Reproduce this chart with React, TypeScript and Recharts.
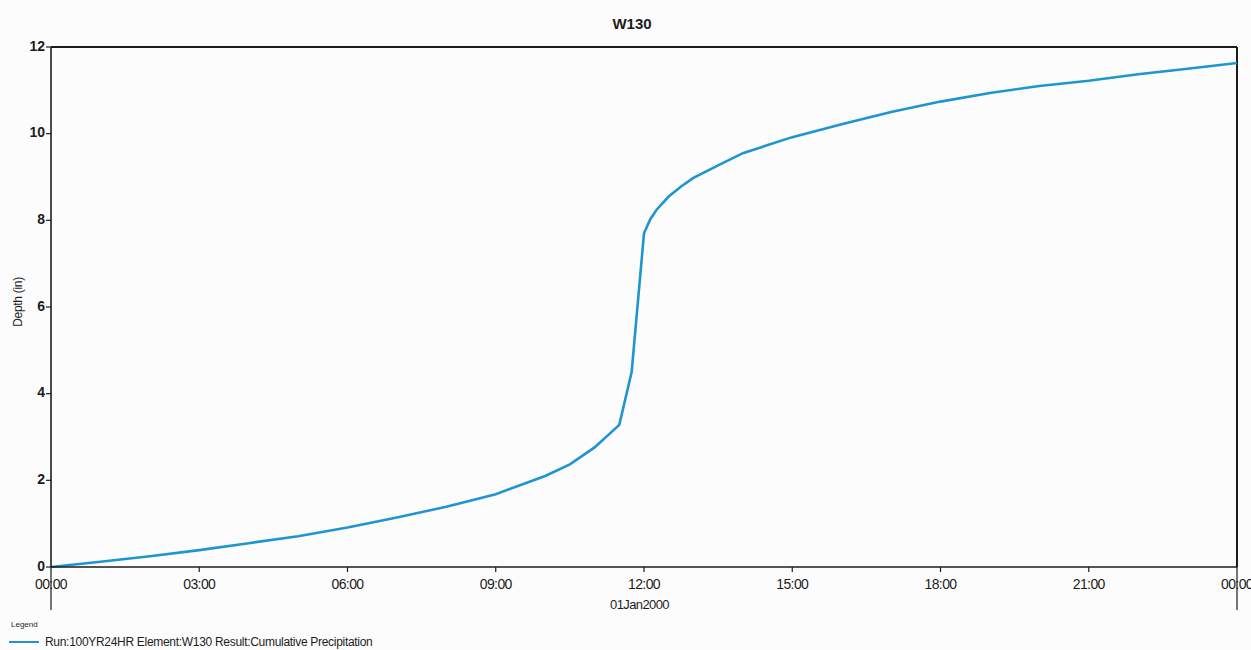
import { LineChart, Line, XAxis, YAxis, ReferenceLine } from "recharts";

// ── Data ──────────────────────────────────────────────────────────────────────
// hours since 01Jan2000 00:00, cumulative precipitation depth (in)

const hours = [
  0, 1, 2, 3, 4, 5, 6, 7, 8, 9, 10, 10.5, 11, 11.5, 11.75, 12, 12.125, 12.25,
  12.5, 12.75, 13, 13.5, 14, 15, 16, 17, 18, 19, 20, 21, 22, 23, 24,
];
const depth = [
  0, 0.12, 0.25, 0.39, 0.55, 0.71, 0.91, 1.14, 1.39, 1.68, 2.1, 2.37, 2.76,
  3.28, 4.5, 7.7, 8.02, 8.24, 8.55, 8.78, 8.98, 9.27, 9.55, 9.92, 10.22, 10.5,
  10.74, 10.94, 11.1, 11.22, 11.37, 11.5, 11.63,
];

const xTicks = [0, 3, 6, 9, 12, 15, 18, 21, 24];
const xTickLabels = ["00:00", "03:00", "06:00", "09:00", "12:00", "15:00", "18:00", "21:00", "00:00"];
const yTicks = [0, 2, 4, 6, 8, 10, 12];

const data = hours.map((t, i) => ({ t, depth: depth[i] }));

const FONT = "'Liberation Sans', Arial, sans-serif";
const INK = "#1c1c1c";
const BLUE = "#1e95d1";

// ── Ticks ─────────────────────────────────────────────────────────────────────

interface TickProps {
  x?: number;
  y?: number;
  payload?: { value: number };
}

function TimeTick({ x = 0, y = 0, payload }: TickProps) {
  const v = payload?.value ?? 0;
  const edge = v === 0 || v === 24;
  const idx = xTicks.indexOf(v);
  return (
    <g>
      <line x1={x} x2={x} y1={y} y2={y + (edge ? 43 : 5)} stroke={INK} strokeWidth={1.2} />
      <text
        x={x}
        y={y + 18}
        textAnchor="middle"
        dominantBaseline="middle"
        fontFamily={FONT}
        fontSize={14}
        fill={INK}
        letterSpacing={-0.6}
      >
        {xTickLabels[idx]}
      </text>
    </g>
  );
}

function DepthTick({ x = 0, y = 0, payload }: TickProps) {
  return (
    <g>
      <line x1={x - 5} x2={x} y1={y} y2={y} stroke={INK} strokeWidth={1.2} />
      <text
        x={x - 6}
        y={y}
        textAnchor="end"
        dominantBaseline="middle"
        fontFamily={FONT}
        fontSize={14}
        fontWeight="bold"
        fill={INK}
      >
        {payload?.value}
      </text>
    </g>
  );
}

// ── Component ─────────────────────────────────────────────────────────────────

export default function App() {
  return (
    <div style={{ position: "relative", width: 1251, height: 650, background: "#fdfcfd", fontFamily: FONT }}>
      <style>{"body{margin:0}"}</style>

      <div
        style={{
          position: "absolute",
          left: 0,
          width: 1264,
          top: 15,
          textAlign: "center",
          fontSize: 15,
          fontWeight: "bold",
          color: INK,
        }}
      >
        W130
      </div>

      <div
        style={{
          position: "absolute",
          left: 18,
          top: 302,
          transform: "translate(-50%, -50%) rotate(-90deg)",
          fontSize: 12,
          color: INK,
          whiteSpace: "nowrap",
          letterSpacing: -0.3,
        }}
      >
        Depth (in)
      </div>

      <LineChart
        width={1251}
        height={650}
        data={data}
        margin={{ top: 47, right: 14, bottom: 53, left: 0 }}
      >
        <XAxis
          dataKey="t"
          type="number"
          domain={[0, 24]}
          ticks={xTicks}
          height={30}
          tickSize={0}
          tickMargin={0}
          tickLine={false}
          axisLine={{ stroke: INK, strokeWidth: 1.6 }}
          tick={<TimeTick />}
          interval={0}
        />
        <YAxis
          type="number"
          domain={[0, 12]}
          ticks={yTicks}
          width={51}
          tickSize={0}
          tickMargin={0}
          tickLine={false}
          axisLine={{ stroke: INK, strokeWidth: 1.6 }}
          tick={<DepthTick />}
          interval={0}
        />
        <ReferenceLine y={12} stroke={INK} strokeWidth={2} />
        <ReferenceLine x={24} stroke={INK} strokeWidth={2} />
        <Line
          type="linear"
          dataKey="depth"
          stroke={BLUE}
          strokeWidth={2.6}
          dot={false}
          isAnimationActive={false}
        />
      </LineChart>

      <div
        style={{
          position: "absolute",
          left: 610,
          top: 597,
          fontSize: 13,
          color: INK,
          letterSpacing: -0.6,
        }}
      >
        01Jan2000
      </div>

      <div style={{ position: "absolute", left: 11, top: 620, fontSize: 8, color: INK }}>Legend</div>
      <div
        style={{
          position: "absolute",
          left: 9,
          top: 635,
          display: "flex",
          alignItems: "center",
          fontSize: 12,
          color: INK,
          letterSpacing: -0.3,
        }}
      >
        <span style={{ display: "inline-block", width: 30, height: 2, background: BLUE, marginRight: 6 }} />
        Run:100YR24HR Element:W130 Result:Cumulative Precipitation
      </div>
    </div>
  );
}
